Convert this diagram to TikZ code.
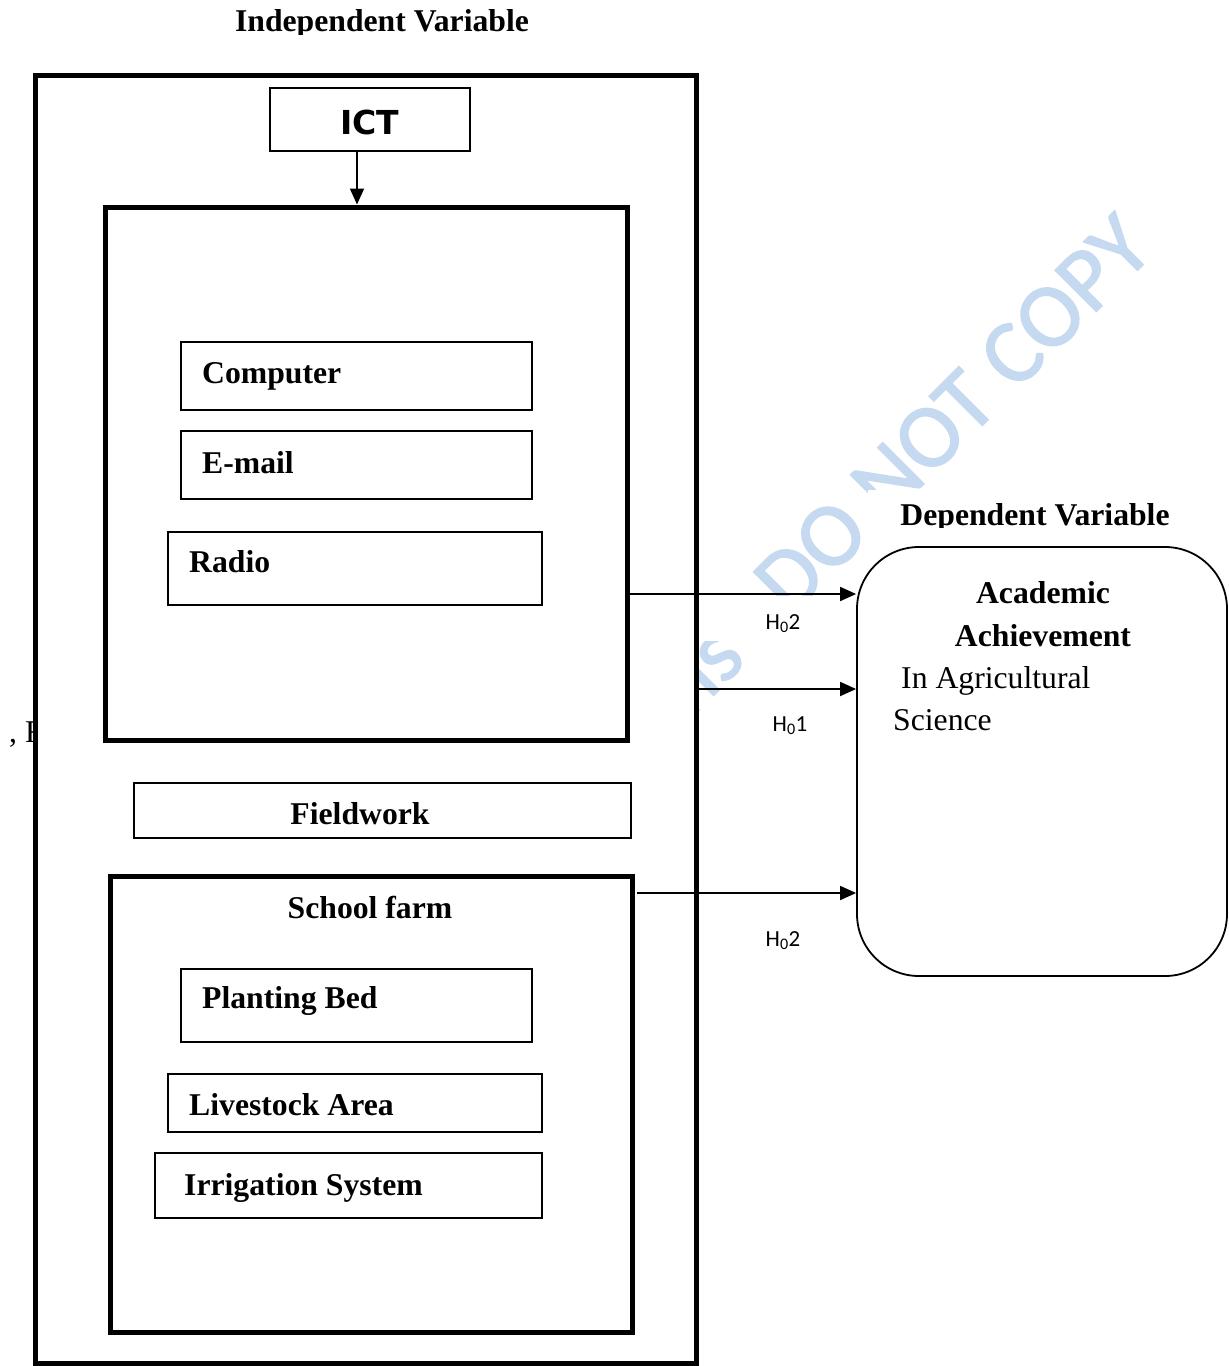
\documentclass[tikz,border=0pt]{standalone}
\usepackage{fontspec}
\setmainfont{Liberation Serif}
\newfontfamily\wmfont[FakeBold=1.5]{Carlito}
\newfontfamily\hfont{Carlito}
\newfontfamily\ictfont{DejaVu Sans}
\usetikzlibrary{arrows.meta,fit}
\definecolor{wmblue}{RGB}{197,218,240}
\begin{document}
\begin{tikzpicture}[x=1pt,y=-1pt,
  every node/.style={inner sep=0pt},
  thin box/.style={draw, line width=1.8pt, inner sep=0pt, fit={#1}},
  thick box/.style={draw, line width=5pt, inner sep=0pt, fit={#1}},
  txt/.style={font=\fontsize{31.7}{38}\selectfont\bfseries, anchor=base west},
  ctxt/.style={font=\fontsize{31.7}{38}\selectfont\bfseries, anchor=base},
  rtxt/.style={font=\fontsize{31.7}{38}\selectfont, anchor=base west},
  arr/.style={draw, line width=1.8pt, -{Triangle[length=16pt,width=14pt]}},
  hlab/.style={font=\hfont\fontsize{23}{26}\selectfont, anchor=base},
  wm/.style={font=\wmfont\fontsize{91}{91}\selectfont, text=wmblue, rotate=45},
]
\fill[white] (0,0) rectangle (1229,1366);
\useasboundingbox (0,0) rectangle (1229,1366);

% watermark
\node[wm, anchor=base west] (wmain) at (790.3,617.7) {DO NOT COPY};
\node[wm, anchor=base east] (wfrag) at (748.4,660.7) {ns};
\fill[white] (868,490) rectangle (1229,528);
\fill[white] (698,596) rectangle (856,641);

% stray text at left
\node[rtxt] (stray) at (9,742) {, F};

% outer box
\node[thick box={(35.5,75.5) (696,1363.5)}, fill=white] (outer) {};

% titles
\begin{scope}
  \clip (0,0) rectangle (1229,34);
  \node[ctxt] (indep) at (382,31) {Independent Variable};
\end{scope}
\begin{scope}
  \clip (860,480) rectangle (1229,527.5);
  \node[ctxt] (depv) at (1035,525) {Dependent Variable};
\end{scope}

% ICT
\node[thin box={(270,88) (470,151)}] (ict) {};
\node[font=\ictfont\bfseries\fontsize{33}{33}\selectfont, anchor=base] (icttxt) at (370,134) {ICT};
\node[thick box={(105.5,207) (627,740)}] (ictgrp) {};
\coordinate (ictout) at (357,151);
\draw[arr] (ictout) -- (ictout |- ictgrp.north);

\node[thin box={(181,342) (532,410)}] (comp) {};
\node[txt] (comptxt) at (202,383) {Computer};
\node[thin box={(181,431) (532,499)}] (email) {};
\node[txt] (emailtxt) at (202,473) {E-mail};
\node[thin box={(168,532) (542,605)}] (radio) {};
\node[txt] (radiotxt) at (189,572) {Radio};

% Fieldwork
\node[thin box={(134,783) (631,838)}] (field) {};
\node[ctxt] (fieldtxt) at (360,824) {Fieldwork};

% School farm
\node[thick box={(110.5,876) (632,1332)}] (farm) {};
\node[ctxt] (farmtxt) at (370,918) {School farm};
\node[thin box={(181,969) (532,1042)}] (bed) {};
\node[txt] (bedtxt) at (202,1008) {Planting Bed};
\node[thin box={(168,1074) (542,1132)}] (live) {};
\node[txt] (livetxt) at (189,1115) {Livestock Area};
\node[thin box={(155,1153) (542,1218)}] (irr) {};
\node[txt] (irrtxt) at (184,1195) {Irrigation System};

% Dependent
\node[draw, line width=1.8pt, rounded corners=62pt, inner sep=0pt, fit={(857,547) (1227,976)}] (dep) {};
\node[ctxt] (acad) at (1043,603) {Academic};
\node[ctxt] (ach) at (1043,646) {Achievement};
\node[rtxt] (inag) at (901,688) {In Agricultural};
\node[rtxt] (sci) at (893,730) {Science};

% connectors
\coordinate (ya) at (0,594);
\coordinate (yb) at (0,689);
\coordinate (farmout) at (637,893);
\draw[arr] (ictgrp.east |- ya) -- (dep.west |- ya);
\draw[arr] (outer.east |- yb) -- (dep.west |- yb);
\draw[arr] (farmout) -- (dep.west |- farmout);

\node[hlab] (h2a) at (783,629) {H\textsubscript{0}2};
\node[hlab] (h1) at (790,731) {H\textsubscript{0}1};
\node[hlab] (h2b) at (783,946) {H\textsubscript{0}2};
\end{tikzpicture}
\end{document}
